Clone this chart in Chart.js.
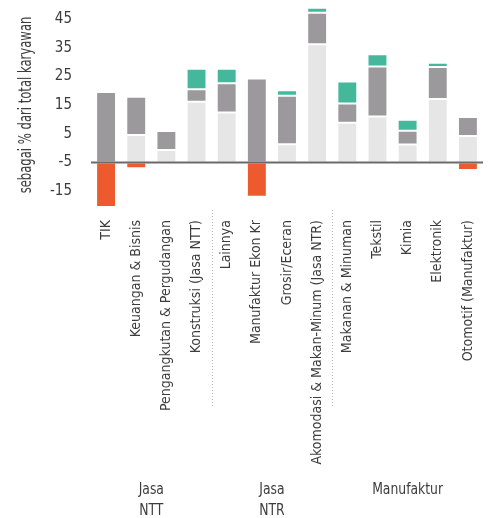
<!DOCTYPE html>
<html>
<head>
<meta charset="utf-8">
<script src="https://cdn.jsdelivr.net/npm/chart.js@4"></script>
<style>
  body { margin: 0; background: #fff; }
  canvas { display: block; }
</style>
</head>
<body>
<canvas id="chart" width="491" height="518"></canvas>
<script>
// Data (values relative to the baseline)
const categories = ['TIK', 'Keuangan & Bisnis', 'Pengangkutan & Pergudangan', 'Konstruksi (Jasa NTT)',
    'Lainnya', 'Manufaktur Ekon Kr', 'Grosir/Eceran', 'Akomodasi & Makan-Minum (Jasa NTR)',
    'Makanan & Minuman', 'Tekstil', 'Kimia', 'Elektronik', 'Otomotif (Manufaktur)'];
const lightGray = [0, 9.6, 4.4, 21.2, 17.4, 0, 6.4, 41.2, 13.9, 16.0, 6.3, 22.1, 9.2];
const darkGray = [24.6, 13.3, 6.6, 4.3, 10.2, 29.3, 16.9, 11.0, 6.7, 17.5, 4.8, 11.2, 6.7];
const teal = [0, 0, 0, 7.2, 5.1, 0, 1.9, 1.7, 7.6, 4.2, 3.8, 1.5, 0];
const orange = [-15.5, -2.0, -0.5, 0, 0, -11.9, 0, 0, 0, 0, 0, 0, -2.6];
const tickValues = [-10, 0, 10, 20, 30, 40, 50];
const tickLabels = ['-15', '-5', '5', '15', '25', '35', '45'];
const groups = [
    { lines: ['Jasa', 'NTT'], from: 0, to: 3 },
    { lines: ['Jasa', 'NTR'], from: 4, to: 7 },
    { lines: ['Manufaktur'], from: 8, to: 12 }
];
const separators = [3.5, 7.5];

const FONT = "'DejaVu Sans Condensed', sans-serif";
const TEXT = '#3c3c3c';

// draws condensed text by squeezing it horizontally
function narrowText(ctx, text, x, y, squeeze) {
    ctx.save();
    ctx.translate(x, y);
    ctx.scale(squeeze, 1);
    ctx.fillText(text, 0, 0);
    ctx.restore();
}

const extras = {
    id: 'extras',
    afterDatasetsDraw(chart) {
        const { ctx, chartArea, scales: { x, y } } = chart;
        ctx.save();
        // baseline
        const y0 = y.getPixelForValue(0);
        ctx.strokeStyle = '#6b6b6b';
        ctx.lineWidth = 2;
        ctx.beginPath();
        ctx.moveTo(chartArea.left, y0);
        ctx.lineTo(chartArea.right, y0);
        ctx.stroke();

        // dotted separators between groups
        ctx.strokeStyle = '#b5b5b5';
        ctx.lineWidth = 1;
        ctx.setLineDash([1, 2]);
        separators.forEach(s => {
            const px = Math.round((x.getPixelForValue(Math.floor(s)) + x.getPixelForValue(Math.ceil(s))) / 2) + 0.5;
            ctx.beginPath();
            ctx.moveTo(px, chartArea.bottom - 1);
            ctx.lineTo(px, 406);
            ctx.stroke();
        });
        ctx.setLineDash([]);

        // group labels
        ctx.fillStyle = TEXT;
        ctx.font = '16px ' + FONT;
        ctx.textAlign = 'center';
        ctx.textBaseline = 'middle';
        groups.forEach(g => {
            const cx = (x.getPixelForValue(g.from) + x.getPixelForValue(g.to)) / 2;
            g.lines.forEach((line, i) => narrowText(ctx, line, cx, 490 + i * 21, 0.86));
        });

        // y axis title
        ctx.translate(27, 105);
        ctx.rotate(-Math.PI / 2);
        ctx.font = '17px ' + FONT;
        narrowText(ctx, 'sebagai % dari total karyawan', 0, 0, 0.76);
        ctx.restore();
    }
};

const ctx = document.getElementById('chart').getContext('2d');
new Chart(ctx, {
    type: 'bar',
    data: {
        labels: categories,
        datasets: [
            { data: lightGray, backgroundColor: '#e6e6e6' },
            { data: darkGray, backgroundColor: '#9b999b' },
            { data: teal, backgroundColor: '#45b89c' },
            { data: orange, backgroundColor: '#ec5a2d' }
        ].map(d => Object.assign(d, {
            borderColor: 'rgba(255,255,255,0.5)',
            borderWidth: 1,
            borderSkipped: false,
            categoryPercentage: 1,
            barPercentage: 0.66
        }))
    },
    options: {
        responsive: false,
        animation: false,
        layout: { padding: { top: 5, right: 8, left: 0, bottom: 0 } },
        plugins: { legend: { display: false }, tooltip: { enabled: false } },
        scales: {
            x: {
                stacked: true,
                grid: { display: false },
                border: { display: false },
                ticks: {
                    minRotation: 90,
                    maxRotation: 90,
                    autoSkip: false,
                    padding: 1,
                    color: TEXT,
                    font: { family: FONT, size: 14 }
                },
                afterFit: scale => {
                    scale.height = 307;
                    scale.paddingLeft = 0;
                    scale.paddingRight = 0;
                }
            },
            y: {
                stacked: true,
                min: -16.9,
                max: 54.9,
                grid: { display: false },
                border: { display: false },
                afterBuildTicks: scale => { scale.ticks = tickValues.map(v => ({ value: v })); },
                ticks: {
                    padding: 11,
                    color: TEXT,
                    font: { family: FONT, size: 15 },
                    callback: v => tickLabels[tickValues.indexOf(v)]
                },
                afterFit: scale => {
                    scale.width = 91;
                    scale.paddingTop = 0;
                    scale.paddingBottom = 0;
                }
            }
        }
    },
    plugins: [extras]
});
</script>
</body>
</html>
